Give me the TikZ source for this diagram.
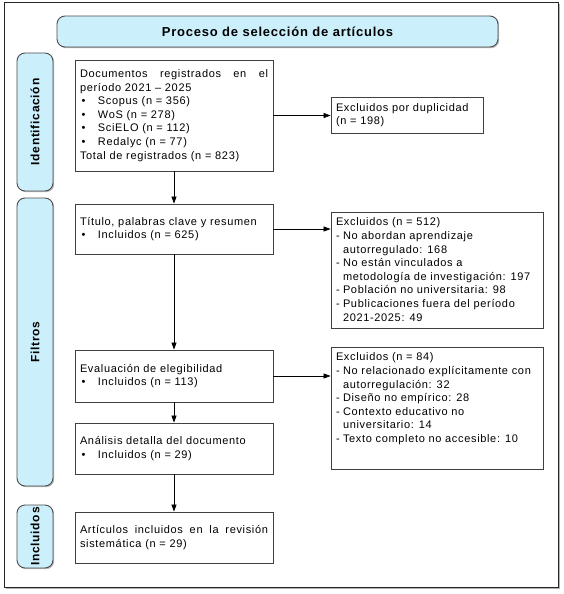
\documentclass[tikz,border=0pt]{standalone}
\usepackage{fontspec}
\setmainfont{Liberation Sans}[LetterSpace=6]
\usetikzlibrary{arrows.meta,shadows}
\newcommand{\bul}{\hspace*{1.5pt}\makebox[16.5pt][l]{•}}
\newcommand{\dsh}{\makebox[7pt][l]{-}}
\newcommand{\cbox}[3]{\parbox[c][#2][c]{#1}{\raggedright #3}}
\newcommand{\tbox}[3]{\parbox[c][#2][s]{#1}{\raggedright\vspace*{6pt}#3\par\vfill}}
\begin{document}
\begin{tikzpicture}[x=1pt,y=-1pt,
  txt/.style={font=\fontsize{11}{13.6}\selectfont},
  sh/.style={drop shadow={shadow xshift=1.2pt,shadow yshift=-1.2pt,fill=black!45,opacity=0.6}},
  stage/.style={draw=black!75,line width=0.8pt,fill=white,inner xsep=5pt,inner ysep=0pt,sh,txt},
  phase/.style={draw=black!70,line width=0.9pt,fill=cyan!20,rounded corners=8pt,sh,inner sep=0pt},
  arr/.style={line width=0.7pt,-{Triangle[length=7pt,width=5pt]}}
]
\useasboundingbox (0,0) rectangle (564,594);
% outer frame
\node[draw=black!85,line width=1pt,fill=white,minimum width=554pt,minimum height=584pt,inner sep=0pt,
  drop shadow={shadow xshift=1.5pt,shadow yshift=-1.5pt,fill=black!50,opacity=0.6}] (frame) at (281,295) {};
% title
\node[phase,minimum width=441pt,minimum height=31pt,font=\bfseries\fontsize{13}{15}\selectfont] (title) at (277.5,31.5) {Proceso de selección de artículos};
% phase labels
\node[phase,rotate=90,minimum width=138pt,minimum height=36pt,font=\bfseries\fontsize{12}{14}\selectfont] (ident) at (35,122) {Identificación};
\node[phase,rotate=90,minimum width=288pt,minimum height=36pt,font=\bfseries\fontsize{12}{14}\selectfont] (filt) at (35,342) {Filtros};
\node[phase,rotate=90,minimum width=63pt,minimum height=36pt,font=\bfseries\fontsize{12}{14}\selectfont] (incl) at (35,536.5) {Incluidos};
% main boxes
\node[stage] (b1) at (174,115.5) {\cbox{188pt}{111pt}{Documentos\hfill registrados\hfill en\hfill el\\
período 2021 – 2025\\
\bul Scopus (n = 356)\\
\bul WoS (n = 278)\\
\bul SciELO (n = 112)\\
\bul Redalyc (n = 77)\\
Total de registrados (n = 823)}};
\node[stage] (b2) at (174,229) {\cbox{188pt}{50pt}{Título, palabras clave y resumen\\
\bul Incluidos (n = 625)}};
\node[stage] (b3) at (174,376) {\cbox{188pt}{52pt}{Evaluación de elegibilidad\\
\bul Incluidos (n = 113)}};
\node[stage] (b4) at (174,448.5) {\cbox{188pt}{51pt}{Análisis detalla del documento\\
\bul Incluidos (n = 29)}};
\node[stage] (b5) at (174,537.5) {\cbox{188pt}{51pt}{Artículos\hfill incluidos\hfill en\hfill la\hfill revisión\\
sistemática (n = 29)}};
% exclusion boxes
\node[stage] (e1) at (407,115) {\cbox{142pt}{36pt}{Excluidos por duplicidad\\(n = 198)}};
\node[stage] (e2) at (437,270) {\tbox{202pt}{116pt}{Excluidos (n = 512)\\
\dsh No abordan aprendizaje\\
\hspace*{7pt}autorregulado: 168\\
\dsh No están vinculados a\\
\hspace*{7pt}metodología de investigación: 197\\
\dsh Población no universitaria: 98\\
\dsh Publicaciones fuera del período\\
\hspace*{7pt}2021-2025: 49}};
\node[stage] (e3) at (437,408) {\tbox{202pt}{122pt}{Excluidos (n = 84)\\
\dsh No relacionado explícitamente con\\
\hspace*{7pt}autorregulación: 32\\
\dsh Diseño no empírico: 28\\
\dsh Contexto educativo no\\
\hspace*{7pt}universitario: 14\\
\dsh Texto completo no accesible: 10}};
% connectors
\draw[arr] (b1) -- (b2);
\draw[arr] (b2) -- (b3);
\draw[arr] (b3) -- (b4);
\draw[arr] (b4) -- (b5);
\draw[arr] (b1.east) -- (b1.east -| e1.west);
\draw[arr] (b2.east) -- (b2.east -| e2.west);
\draw[arr] (b3.east) -- (b3.east -| e3.west);
\end{tikzpicture}
\end{document}
